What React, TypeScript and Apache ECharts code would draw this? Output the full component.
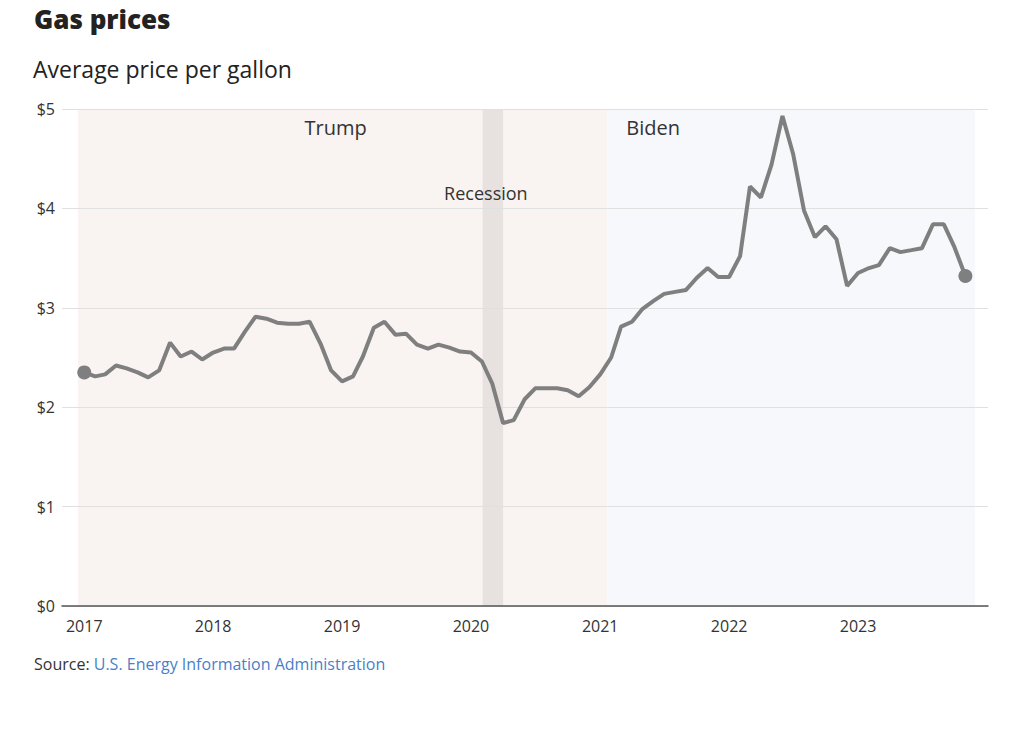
import React, { useEffect, useRef } from "react";
import * as echarts from "echarts";

// Monthly average price per gallon, Jan 2017 – Nov 2023
const firstYear = 2017;
const lastLabelYear = 2023;
const prices = [
  2.35, 2.31, 2.33, 2.42, 2.39, 2.35, 2.3, 2.37, 2.65, 2.51, 2.56, 2.48,
  2.55, 2.59, 2.59, 2.76, 2.91, 2.89, 2.85, 2.84, 2.84, 2.86, 2.64, 2.37,
  2.26, 2.31, 2.51, 2.8, 2.86, 2.73, 2.74, 2.63, 2.59, 2.63, 2.6, 2.56,
  2.55, 2.46, 2.24, 1.84, 1.87, 2.08, 2.19, 2.19, 2.19, 2.17, 2.11, 2.2,
  2.33, 2.5, 2.81, 2.86, 2.99, 3.07, 3.14, 3.16, 3.18, 3.3, 3.4, 3.31,
  3.31, 3.52, 4.22, 4.11, 4.44, 4.93, 4.55, 3.98, 3.71, 3.82, 3.69, 3.22,
  3.35, 3.4, 3.43, 3.6, 3.56, 3.58, 3.6, 3.84, 3.84, 3.61, 3.32,
];

const bandNames = ["Trump", "Biden"];
const bandStarts = ["2016-12-14", "2021-01-21"];
const bandEnds = ["2021-01-21", "2023-11-28"];
const recession = ["2020-02-03", "2020-04-01"];

const axisMin = "2016-10-30";
const axisMax = "2024-01-04";
const yMin = 0;
const yMax = 5;
const yInterval = 1;

const months = prices.map((_, i) => {
  const y = firstYear + Math.floor(i / 12);
  const m = (i % 12) + 1;
  return `${y}-${String(m).padStart(2, "0")}-01`;
});

const FONT = "'Open Sans', 'Noto Sans', sans-serif";
const TITLE_FONT = "'Open Sans', 'Noto Sans', sans-serif";

export default function App() {
  const ref = useRef<HTMLDivElement>(null);

  useEffect(() => {
    document.body.style.margin = "0";
    const chart = echarts.init(ref.current!, null, { renderer: "svg" });
    const lineData = months.map((d, i) => [d, prices[i]]);
    const last = prices.length - 1;

    chart.setOption({
      animation: false,
      textStyle: { fontFamily: FONT },
      title: [
        {
          text: "Gas prices",
          left: 34,
          top: 6,
          padding: 0,
          textStyle: { fontSize: 26, fontWeight: 800, color: "#222", fontFamily: TITLE_FONT },
        },
        {
          text: "Average price per gallon",
          left: 33,
          top: 57,
          padding: 0,
          textStyle: { fontSize: 23, fontWeight: "normal", color: "#222", fontFamily: FONT },
        },
        {
          text: "{a|Source: }{b|U.S. Energy Information Administration}",
          left: 34,
          top: 656,
          padding: 0,
          textStyle: {
            fontWeight: "normal",
            rich: {
              a: { fontSize: 16, fontWeight: "normal", color: "#333", fontFamily: FONT },
              b: { fontSize: 16, fontWeight: "normal", color: "#4a7fc8", fontFamily: FONT },
            },
          },
        },
      ],
      grid: { left: 62, right: 36, top: 109, bottom: 126 },
      xAxis: {
        type: "time",
        min: axisMin,
        max: axisMax,
        splitNumber: 7,
        z: 2,
        axisLine: { show: true, lineStyle: { color: "#555", width: 1.5 } },
        axisTick: { show: false },
        splitLine: { show: false },
        axisLabel: {
          formatter: (val: number) => {
            const d = new Date(val);
            const y = d.getFullYear();
            return d.getMonth() === 0 && d.getDate() === 1 && y <= lastLabelYear
              ? String(y)
              : "";
          },
          color: "#333",
          fontSize: 16,
          margin: 12,
          showMinLabel: false,
          showMaxLabel: false,
          fontFamily: FONT,
        },
      },
      yAxis: {
        type: "value",
        min: yMin,
        max: yMax,
        interval: yInterval,
        z: 2,
        axisLine: { show: false },
        axisTick: { show: false },
        splitLine: { show: true, lineStyle: { color: "#e0e0e0", width: 1.2 } },
        axisLabel: {
          formatter: (v: number) => `$${v}`,
          color: "#333",
          fontSize: 16,
          margin: 7,
          fontFamily: FONT,
        },
      },
      series: [
        {
          type: "line",
          data: [],
          z: 0,
          silent: true,
          markArea: {
            silent: true,
            z: 0,
            data: [
              [
                {
                  xAxis: bandStarts[0],
                  itemStyle: { color: "#f9f4f1" },
                  label: {
                    show: true,
                    formatter: bandNames[0],
                    position: "insideTop",
                    offset: [-7, 3],
                    color: "#333",
                    fontSize: 20,
                    fontFamily: FONT,
                  },
                },
                { xAxis: bandEnds[0] },
              ],
              [
                {
                  xAxis: bandStarts[1],
                  itemStyle: { color: "#f7f8fc" },
                  label: {
                    show: true,
                    formatter: bandNames[1],
                    position: "insideTopLeft",
                    offset: [14, 3],
                    color: "#333",
                    fontSize: 20,
                    fontFamily: FONT,
                  },
                },
                { xAxis: bandEnds[1] },
              ],
              [
                {
                  xAxis: recession[0],
                  itemStyle: { color: "#e7e2e0" },
                  label: {
                    show: true,
                    formatter: "Recession",
                    position: "insideTop",
                    offset: [-7, 70],
                    color: "#333",
                    fontSize: 18,
                    fontFamily: FONT,
                  },
                },
                { xAxis: recession[1] },
              ],
            ],
          },
        },
        {
          type: "line",
          data: lineData,
          z: 3,
          showSymbol: true,
          symbol: "circle",
          symbolSize: (_v: any, p: any) =>
            p.dataIndex === 0 || p.dataIndex === last ? 14 : 0,
          itemStyle: { color: "#7f7f7f" },
          lineStyle: { color: "#7f7f7f", width: 4 },
          silent: true,
        },
      ],
    });

    return () => chart.dispose();
  }, []);

  return <div ref={ref} style={{ width: 1024, height: 732 }} />;
}
